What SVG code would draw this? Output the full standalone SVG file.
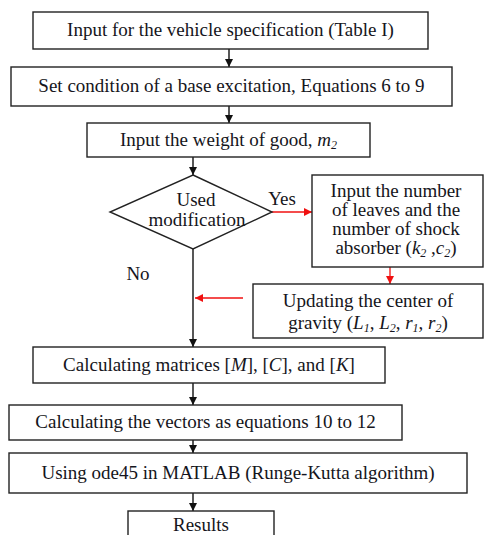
<svg xmlns="http://www.w3.org/2000/svg" width="484" height="535" viewBox="0 0 484 535">
<defs>
<marker id="ab" viewBox="0 0 10 10" refX="10" refY="5" markerWidth="8" markerHeight="8" markerUnits="userSpaceOnUse" orient="auto"><path d="M0,0 L10,5 L0,10 z" fill="#111"/></marker>
<marker id="ar" viewBox="0 0 10 10" refX="10" refY="5" markerWidth="8" markerHeight="8" markerUnits="userSpaceOnUse" orient="auto"><path d="M0,0 L10,5 L0,10 z" fill="#f01010"/></marker>
</defs>
<style>
.box{fill:#fff;stroke:#222;stroke-width:1.4}
.t{font-family:"Liberation Serif","Times New Roman",serif;font-size:19px;fill:#151520;text-anchor:middle}
.i{font-style:italic}
.s{font-size:12px;font-style:italic}
.blk{stroke:#111;stroke-width:1.4;fill:none;marker-end:url(#ab)}
.red{stroke:#f01010;stroke-width:1.3;fill:none;marker-end:url(#ar)}
</style>
<rect width="484" height="535" fill="#fff"/>
<g id="connectors">
<line class="blk" x1="229" y1="49" x2="229" y2="67"/>
<line class="blk" x1="229" y1="106" x2="229" y2="123"/>
<line class="blk" x1="193" y1="157" x2="193" y2="175"/>
<line class="blk" x1="193" y1="249" x2="193" y2="347"/>
<line class="red" x1="272" y1="212" x2="312" y2="212"/>
<line class="red" x1="390" y1="267" x2="390" y2="284"/>
<line class="red" x1="243" y1="298" x2="195" y2="298"/>
<line class="blk" x1="193" y1="383" x2="193" y2="405"/>
<line class="blk" x1="193" y1="440" x2="193" y2="453"/>
<line class="blk" x1="193" y1="493" x2="193" y2="511"/>
<text class="t" x="282" y="205">Yes</text>
<text class="t" x="138" y="280">No</text>
</g>
<g id="n1"><rect class="box" x="33" y="12" width="395" height="37"/><text class="t" x="230.5" y="36">Input for the vehicle specification (Table I)</text></g>
<g id="n2"><rect class="box" x="11" y="67" width="441" height="39"/><text class="t" x="231.5" y="92">Set condition of a base excitation, Equations 6 to 9</text></g>
<g id="n3"><rect class="box" x="87" y="123" width="283" height="34"/><text class="t" x="228.5" y="146">Input the weight of good, <tspan class="i">m</tspan><tspan class="s" dy="3">2</tspan></text></g>
<g id="n4"><path class="box" d="M193,175 L272,212 L193,249 L110,212 Z"/><text class="t" x="196" y="206">Used</text><text class="t" x="197" y="226">modification</text></g>
<g id="n5"><rect class="box" x="312" y="175" width="171" height="92"/>
<text class="t" x="396" y="197">Input the number</text>
<text class="t" x="396" y="216">of leaves and the</text>
<text class="t" x="396" y="235">number of shock</text>
<text class="t" x="396" y="254">absorber (<tspan class="i">k</tspan><tspan class="s" dy="3">2</tspan><tspan dy="-3"> ,</tspan><tspan class="i">c</tspan><tspan class="s" dy="3">2</tspan><tspan dy="-3">)</tspan></text></g>
<g id="n6"><rect class="box" x="253" y="284" width="230" height="54"/>
<text class="t" x="368" y="307">Updating the center of</text>
<text class="t" x="368" y="329">gravity (<tspan class="i">L</tspan><tspan class="s" dy="3">1</tspan><tspan dy="-3">, </tspan><tspan class="i">L</tspan><tspan class="s" dy="3" font-style="normal">2</tspan><tspan dy="-3">, </tspan><tspan class="i">r</tspan><tspan class="s" dy="3">1</tspan><tspan dy="-3">, </tspan><tspan class="i">r</tspan><tspan class="s" dy="3">2</tspan><tspan dy="-3">)</tspan></text></g>
<g id="n7"><rect class="box" x="33" y="347" width="352" height="36"/><text class="t" x="209" y="371">Calculating matrices [<tspan class="i">M</tspan>], [<tspan class="i">C</tspan>], and [<tspan class="i">K</tspan>]</text></g>
<g id="n8"><rect class="box" x="9" y="405" width="393" height="35"/><text class="t" x="205.5" y="428">Calculating the vectors as equations 10 to 12</text></g>
<g id="n9"><rect class="box" x="9" y="453" width="458" height="40"/><text class="t" x="238" y="479">Using ode45 in MATLAB (Runge-Kutta algorithm)</text></g>
<g id="n10"><rect class="box" x="128" y="511" width="146" height="40"/><text class="t" x="201" y="531" font-size="18">Results</text></g>
</svg>
